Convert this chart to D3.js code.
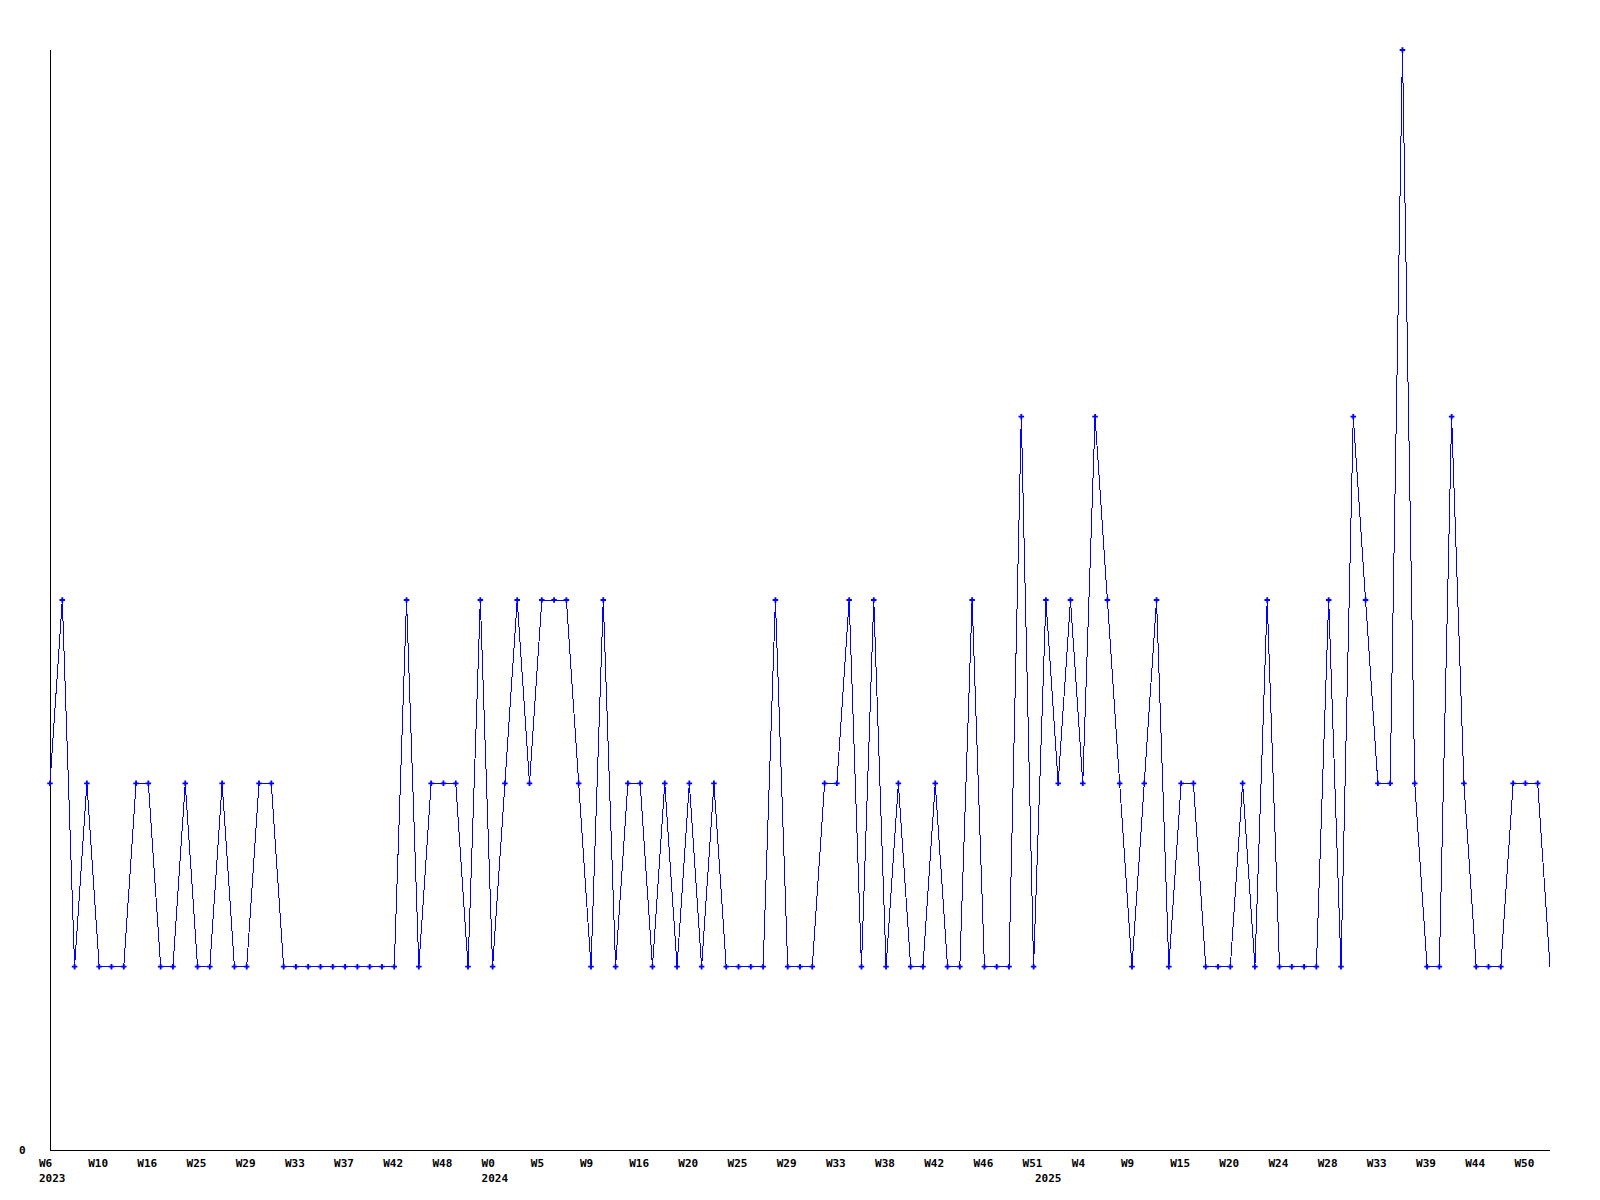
<!DOCTYPE html>
<html lang="en">
<head>
    <meta charset="UTF-8">
    <title>Weekly counts</title>
    <style>
        body { margin: 0; background: #fff; }
        .lbl {
            font-family: "DejaVu Sans Mono", "Liberation Mono", monospace;
            font-size: 11px;
            font-weight: bold;
            fill: #000;
        }
    </style>
</head>
<body>
<div id="chart"></div>
<script src="https://d3js.org/d3.v7.min.js"></script>
<script>

    // one value per week
    var values = [
        2, 3, 1, 2, 1, 1, 1, 2, 2, 1, 1, 2, 1, 1, 2, 1, 1, 2, 2, 1,
        1, 1, 1, 1, 1, 1, 1, 1, 1, 3, 1, 2, 2, 2, 1, 3, 1, 2, 3, 2,
        3, 3, 3, 2, 1, 3, 1, 2, 2, 1, 2, 1, 2, 1, 2, 1, 1, 1, 1, 3,
        1, 1, 1, 2, 2, 3, 1, 3, 1, 2, 1, 1, 2, 1, 1, 3, 1, 1, 1, 4,
        1, 3, 2, 3, 2, 4, 3, 2, 1, 2, 3, 1, 2, 2, 1, 1, 1, 2, 1, 3,
        1, 1, 1, 1, 3, 1, 4, 3, 2, 2, 6, 2, 1, 1, 4, 2, 1, 1, 1, 2,
        2, 2, 1
    ];

    // a week label on every 4th point
    var tickLabels = [
        "W6", "W10", "W16", "W25", "W29", "W33", "W37", "W42", "W48",
        "W0", "W5", "W9", "W16", "W20", "W25", "W29", "W33", "W38", "W42", "W46", "W51",
        "W4", "W9", "W15", "W20", "W24", "W28", "W33", "W39", "W44", "W50"
    ];

    // first point of each year
    var yearStarts = [0, 36, 81];
    var years = ["2023", "2024", "2025"];

    var width = 1600,
        height = 1200;

    var svg = d3.select("#chart").append("svg")
        .attr("width", width)
        .attr("height", height);

    var x = d3.scaleLinear()
        .domain([0, values.length - 1])
        .range([50, 1550]);

    var y = d3.scaleLinear()
        .domain([0, d3.max(values)])
        .range([1150, 50]);

    // axes: plain lines, no tick marks
    svg.append("line")
        .attr("x1", x(0)).attr("x2", x(0))
        .attr("y1", y(0)).attr("y2", y.range()[1])
        .attr("stroke", "#000")
        .attr("shape-rendering", "crispEdges");

    svg.append("line")
        .attr("x1", x(0)).attr("x2", x.range()[1])
        .attr("y1", y(0)).attr("y2", y(0))
        .attr("stroke", "#000")
        .attr("shape-rendering", "crispEdges");

    svg.append("text")
        .attr("class", "lbl")
        .attr("x", 19)
        .attr("y", y(0) + 4)
        .text("0");

    svg.selectAll(".tick-lbl")
        .data(tickLabels)
        .enter().append("text")
        .attr("class", "lbl tick-lbl")
        .attr("x", function (d, i) { return x(i * 4) - 11; })
        .attr("y", y(0) + 17)
        .text(function (d) { return d; });

    svg.selectAll(".year-lbl")
        .data(years)
        .enter().append("text")
        .attr("class", "lbl year-lbl")
        .attr("x", function (d, i) { return x(yearStarts[i]) - 11; })
        .attr("y", y(0) + 32)
        .text(function (d) { return d; });

    var line = d3.line()
        .x(function (d, i) { return x(i); })
        .y(function (d) { return y(d); });

    svg.append("path")
        .datum(values)
        .attr("fill", "none")
        .attr("stroke", "#0000ff")
        .attr("stroke-width", 1)
        .attr("shape-rendering", "crispEdges")
        .attr("d", line);

    // markers (the last point sits on the frame edge and shows none)
    var cross = d3.symbol().type(d3.symbolCross).size(17);

    svg.selectAll(".pt")
        .data(values.slice(0, -1))
        .enter().append("path")
        .attr("class", "pt")
        .attr("d", cross)
        .attr("fill", "#0000ff")
        .attr("transform", function (d, i) { return "translate(" + x(i) + "," + y(d) + ")"; });

</script>
</body>
</html>
